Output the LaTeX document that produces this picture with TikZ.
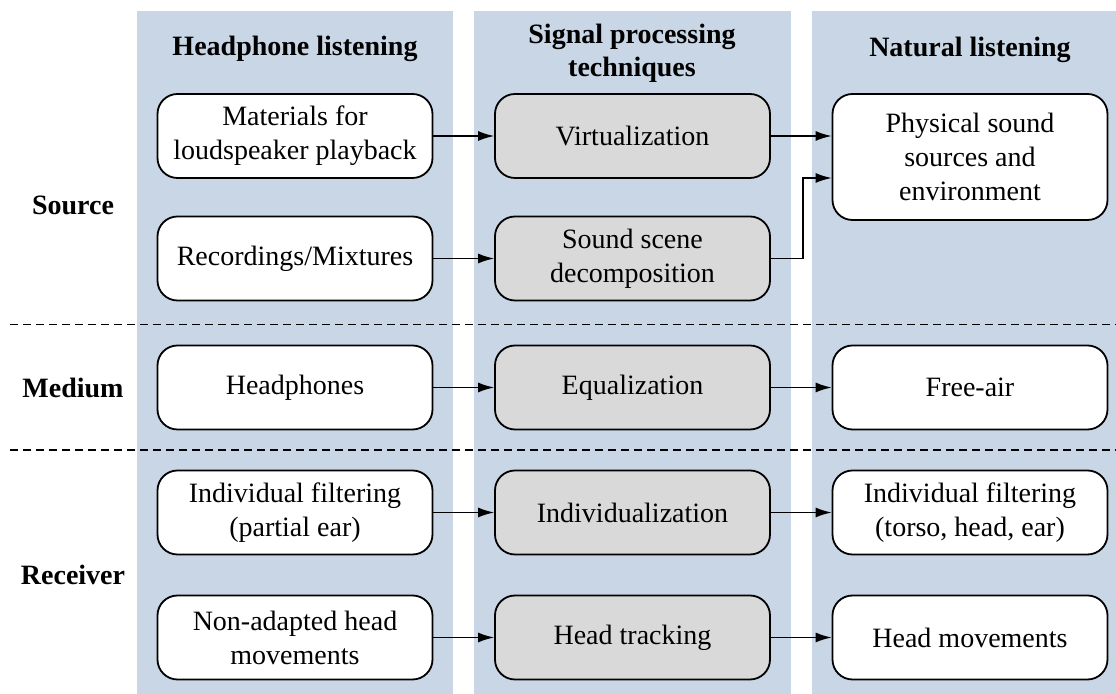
\documentclass[tikz,border=0pt]{standalone}
\usepackage{fontspec}
\setmainfont{Liberation Serif}
\usetikzlibrary{arrows.meta,calc}
\definecolor{panelblue}{RGB}{201,214,229}
\definecolor{boxgray}{RGB}{217,217,217}
\begin{document}
\begin{tikzpicture}[x=0.5pt,y=-0.5pt,
  panel/.style={fill=panelblue,draw=none},
  box/.style={draw=black,line width=0.9pt,rounded corners=10pt,fill=white,
    minimum width=137.5pt,minimum height=42pt,align=center,inner sep=2pt,
    font=\fontsize{14pt}{17pt}\selectfont},
  procbox/.style={box,fill=boxgray},
  hdr/.style={font=\fontsize{14pt}{16.5pt}\selectfont\bfseries,align=center,inner sep=0pt},
  rowlbl/.style={font=\fontsize{14pt}{17pt}\selectfont\bfseries,inner sep=0pt},
  arr/.style={line width=0.7pt,-{Latex[length=8pt,width=5pt]}},
  sep/.style={line width=0.6pt,dash pattern=on 4pt off 2.5pt}]
\useasboundingbox (0,0) rectangle (1116,694);
% column panels
\fill[panel] (137,11) rectangle (453,694);
\fill[panel] (474,11) rectangle (791,694);
\fill[panel] (812,11) rectangle (1116,694);
% row separators
\draw[sep] (10,324.5) -- (1116,324.5);
\draw[sep] (10,450) -- (1116,450);
% headers
\node[hdr,anchor=base] (h1) at (295,56) {Headphone listening};
\node[hdr] (h2) at (632,53) {Signal processing\\techniques};
\node[hdr,anchor=base] (h3) at (970,57) {Natural listening};
% row labels
\node[rowlbl] (src) at (73,205) {Source};
\node[rowlbl] (med) at (73,388) {Medium};
\node[rowlbl] (rcv) at (73,575) {Receiver};
% boxes
\node[box] (mat) at (295,136) {Materials for\\loudspeaker playback};
\node[procbox] (virt) at (632.5,136) {Virtualization};
\node[box,minimum height=63pt] (phys) at (970,157) {Physical sound\\sources and\\environment};
\node[box] (rec) at (295,258.5) {Recordings/Mixtures};
\node[procbox] (ssd) at (632.5,258.5) {Sound scene\\decomposition};
\node[box] (hp) at (295,387.5) {Headphones};
\node[procbox] (eq) at (632.5,387.5) {Equalization};
\node[box] (fa) at (970,387.5) {Free-air};
\node[box] (ifp) at (295,512.5) {Individual filtering\\(partial ear)};
\node[procbox] (ind) at (632.5,512.5) {Individualization};
\node[box] (ift) at (970,512.5) {Individual filtering\\(torso, head, ear)};
\node[box] (nah) at (295,637.5) {Non-adapted head\\movements};
\node[procbox] (ht) at (632.5,637.5) {Head tracking};
\node[box] (hm) at (970,637.5) {Head movements};
% connectors
\draw[arr] (mat.east) -- (virt.west);
\draw[arr] (virt.east) -- (virt.east -| phys.west);
\draw[arr] (rec.east) -- (ssd.west);
\draw[arr] (ssd.east) -- ++(32,0) |- ($(phys.west)+(0,21)$);
\draw[arr] (hp.east) -- (eq.west);
\draw[arr] (eq.east) -- (fa.west);
\draw[arr] (ifp.east) -- (ind.west);
\draw[arr] (ind.east) -- (ift.west);
\draw[arr] (nah.east) -- (ht.west);
\draw[arr] (ht.east) -- (hm.west);
\end{tikzpicture}
\end{document}
